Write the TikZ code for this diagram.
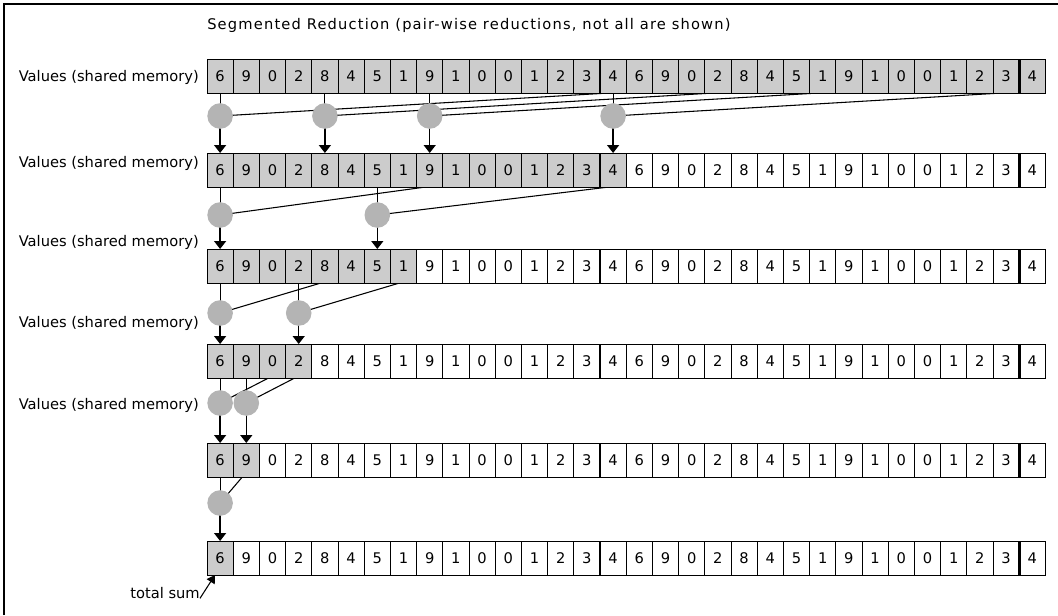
\documentclass[tikz,border=0pt]{standalone}
\usepackage{fontspec}
\setmainfont{DejaVu Sans}
\usepackage{tikz}
\usetikzlibrary{arrows.meta,backgrounds}
\definecolor{cellgray}{RGB}{204,204,204}
\definecolor{dotgray}{RGB}{180,180,180}

\begin{document}
\begin{tikzpicture}[
  x=0.75pt, y=-0.75pt,
  font=\fontsize{11}{13}\selectfont,
  cell/.style={draw, line width=0.75pt, inner sep=0pt, outer sep=0pt, minimum width=19.65pt, minimum height=25.5pt},
  dot/.style={circle, fill=dotgray, inner sep=0pt, minimum size=19.2pt},
  lbl/.style={inner sep=0pt, anchor=east},
  link/.style={line width=0.8pt},
  arr/.style={-{Triangle[width=9pt,length=6pt]}, line width=1.1pt},
  divider/.style={line width=2.2pt}
]
\useasboundingbox (0,0) rectangle (1058,615);
% frame
\draw[line width=1.5pt] (4,615) -- (4,4) -- (1058,4);
% title
\node[inner sep=0pt, anchor=west, font=\fontsize{11}{13}\selectfont\addfontfeature{LetterSpace=8}] (title) at (207,25) {Segmented Reduction (pair-wise reductions, not all are shown)};
% rows of values
\foreach \r/\y/\g in {1/76/32, 2/170/16, 3/266/8, 4/361/4, 5/460/2, 6/558/1} {
  \foreach \v [count=\i from 0] in {6,9,0,2,8,4,5,1,9,1,0,0,1,2,3,4,6,9,0,2,8,4,5,1,9,1,0,0,1,2,3,4} {
    \ifnum\i<\g \def\cf{cellgray}\else\def\cf{white}\fi
    \node[cell, fill=\cf] (c\r-\i) at ({207+26.2*(\i+0.5)},\y) {\v};
  }
  \draw[divider] (c\r-15.north west) -- (c\r-15.south west);
  \draw[divider] (c\r-31.north west) -- (c\r-31.south west);
}
% labels
\node[lbl] (l1) at (199,77) {Values (shared memory)};
\node[lbl] (l2) at (199,163) {Values (shared memory)};
\node[lbl] (l3) at (199,242) {Values (shared memory)};
\node[lbl] (l4) at (199,323) {Values (shared memory)};
\node[lbl] (l5) at (199,405) {Values (shared memory)};
% pair-wise reductions
\foreach \r/\n/\y/\pairs in {1/2/116/{0/15,4/19,8/23,15/30}, 2/3/215/{0/8,6/15}, 3/4/313/{0/4,3/7}, 4/5/403/{0/2,1/3}, 5/6/503/{0/1}} {
  \foreach \k/\m in \pairs {
    \node[dot] (d\r-\k) at (c\r-\k |- 0,\y) {};
    \begin{scope}[on background layer]
      \draw[link] (c\r-\k.south) -- (d\r-\k.center);
      \draw[link] (d\r-\k.center) -- ([xshift=-3pt]c\r-\m.south);
      \draw[arr] (d\r-\k.center) -- (c\n-\k.north);
    \end{scope}
  }
}
% result
\node[lbl] (tot) at (200,593) {total sum};
\draw[link, -{Triangle[width=7pt,length=6pt]}] ([yshift=-4pt]tot.east) -- ([xshift=6pt]c6-0.south west);
\end{tikzpicture}
\end{document}
